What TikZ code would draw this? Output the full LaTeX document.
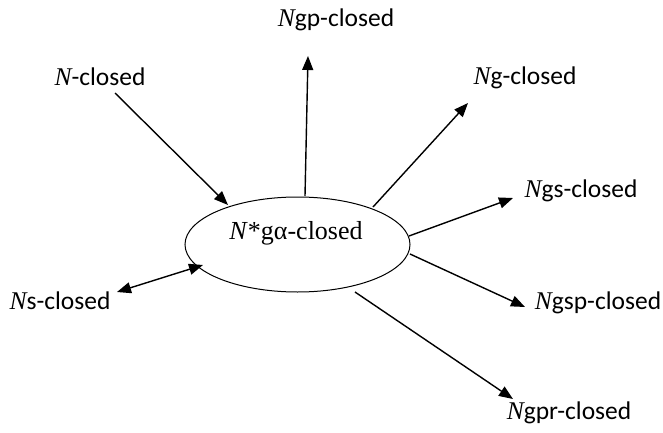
\documentclass[tikz,border=0pt]{standalone}
\usepackage{fontspec}
\setmainfont{Carlito}
\newfontfamily\serifit{Liberation Serif}
\usetikzlibrary{arrows.meta,shapes.geometric}
\begin{document}
\begin{tikzpicture}[x=1pt,y=-1pt,
  lbl/.style={inner sep=0pt,font=\fontsize{25.5}{28}\selectfont},
  conn/.style={line width=1.4pt,-{Triangle[length=14pt,width=11pt]}},
  dconn/.style={line width=1.4pt,{Triangle[length=14pt,width=11pt]}-{Triangle[length=14pt,width=11pt]}}]
\useasboundingbox (0,0) rectangle (663,433);
\node[ellipse,draw,line width=1pt,minimum width=225pt,minimum height=95pt,inner sep=0pt] (e) at (297.5,244.5) {};
\node[inner sep=0pt,font=\fontsize{26}{29}\selectfont\serifit] (et) at (296,233) {\textit{N}*gα-closed};
\node[lbl] (nc) at (100,77) {{\serifit\itshape N}-closed};
\node[lbl] (ngp) at (336,20) {{\serifit\itshape N}gp-closed};
\node[lbl] (ng) at (525,78) {{\serifit\itshape N}g-closed};
\node[lbl] (ngs) at (581,191) {{\serifit\itshape N}gs-closed};
\node[lbl] (ngsp) at (598,303) {{\serifit\itshape N}gsp-closed};
\node[lbl] (ns) at (60,301) {{\serifit\itshape N}s-closed};
\node[lbl] (ngpr) at (569,413) {{\serifit\itshape N}gpr-closed};
\coordinate (a1s) at (115,93);  \coordinate (a1e) at (228,205);
\coordinate (a2s) at (305,196); \coordinate (a2e) at (308,56);
\coordinate (a3s) at (373,207); \coordinate (a3e) at (468,103);
\coordinate (a4s) at (409,236); \coordinate (a4e) at (513,198);
\coordinate (a5s) at (410,254); \coordinate (a5e) at (525,307);
\coordinate (a6s) at (355,292); \coordinate (a6e) at (513,399);
\coordinate (a7s) at (117,292); \coordinate (a7e) at (203,265);
\draw[conn] (a1s) -- (a1e);
\draw[conn] (a2s) -- (a2e);
\draw[conn] (a3s) -- (a3e);
\draw[conn] (a4s) -- (a4e);
\draw[conn] (a5s) -- (a5e);
\draw[conn] (a6s) -- (a6e);
\draw[dconn] (a7s) -- (a7e);
\end{tikzpicture}
\end{document}
